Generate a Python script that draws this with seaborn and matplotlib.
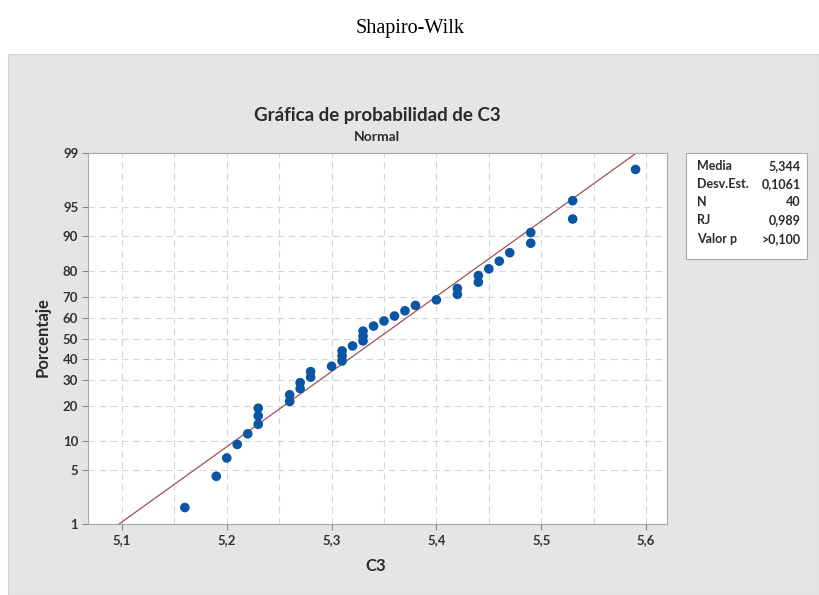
import matplotlib
matplotlib.use("Agg")
import matplotlib.pyplot as plt
from matplotlib.patches import Rectangle
from matplotlib.ticker import MultipleLocator
import pandas as pd
import seaborn as sns
from statistics import NormalDist

# C3 values (sorted) and their plotted percentages
c3 = [5.16, 5.19, 5.20, 5.21, 5.22, 5.23, 5.23, 5.23, 5.26, 5.26,
      5.27, 5.27, 5.28, 5.28, 5.30, 5.31, 5.31, 5.31, 5.32, 5.33,
      5.33, 5.33, 5.34, 5.35, 5.36, 5.37, 5.38, 5.40, 5.42, 5.42,
      5.44, 5.44, 5.45, 5.46, 5.47, 5.49, 5.49, 5.53, 5.53, 5.59]
porcentaje = [1.7, 4.2, 6.7, 9.2, 11.6, 14.1, 16.6, 19.1, 21.5, 24.0,
              26.5, 29.0, 31.4, 33.9, 36.4, 38.9, 41.3, 43.8, 46.3, 48.8,
              51.2, 53.7, 56.2, 58.7, 61.1, 63.6, 66.1, 68.6, 71.0, 73.5,
              76.0, 78.5, 80.9, 83.4, 85.9, 88.4, 90.8, 93.3, 95.8, 98.3]

y_ticks = [1, 5, 10, 20, 30, 40, 50, 60, 70, 80, 90, 95, 99]
x_ticks = [5.1, 5.2, 5.3, 5.4, 5.5, 5.6]

media = 5.344
desv = 0.1061
stats_labels = ["Media", "Desv.Est.", "N", "RJ", "Valor p"]
stats_values = ["5,344", "0,1061", "40", "0,989", ">0,100"]

nd = NormalDist()
df = pd.DataFrame({"C3": c3, "z": [nd.inv_cdf(p / 100) for p in porcentaje]})

# fitted line between 1% and 99%
z_lo, z_hi = nd.inv_cdf(0.01), nd.inv_cdf(0.99)
fit = pd.DataFrame({"C3": [media + z_lo * desv, media + z_hi * desv], "z": [z_lo, z_hi]})

sns.set_style("white")
plt.rcParams["font.family"] = ["Lato", "DejaVu Sans"]

W, H = 819, 595
fig = plt.figure(figsize=(W / 100, H / 100), dpi=100)
fig.patch.set_facecolor("white")
# grey Minitab panel behind everything
fig.patches.append(Rectangle((8 / W, 0), (W - 8) / W, (H - 54) / H,
                             transform=fig.transFigure, facecolor="#e5e5e5",
                             edgecolor="#d4d4d4", lw=0.8, zorder=-5))

ax = fig.add_axes([88 / W, (H - 524) / H, (667 - 88) / W, (524 - 153) / H])
ax.set_facecolor("white")

sns.lineplot(data=fit, x="C3", y="z", color="#a0524f", lw=0.9, ax=ax, zorder=2)
sns.scatterplot(data=df, x="C3", y="z", color="#0b56a4", s=48, edgecolor="none", ax=ax, zorder=3)

ax.set_xlim(5.0676, 5.62)
ax.set_ylim(z_lo, z_hi)
ax.xaxis.set_minor_locator(MultipleLocator(0.05))
ax.set_xticks(x_ticks)
ax.set_xticklabels([f"{v:.1f}".replace(".", ",") for v in x_ticks])
ax.set_yticks([nd.inv_cdf(v / 100) for v in y_ticks])
ax.set_yticklabels([str(v) for v in y_ticks])

ax.grid(True, which="both", axis="x", ls=(0, (6, 4)), color="#d6d6d6", lw=0.8)
ax.grid(True, which="major", axis="y", ls=(0, (6, 4)), color="#d6d6d6", lw=0.8)
ax.tick_params(axis="both", which="major", length=4, width=0.8, color="#888888",
               labelsize=9.5, labelcolor="#333333", pad=3, direction="out",
               left=True, bottom=True)
ax.tick_params(axis="x", which="minor", length=0)
for lbl in ax.get_xticklabels() + ax.get_yticklabels():
    lbl.set_fontweight("bold")
for sp in ax.spines.values():
    sp.set_color("#a8a8a8")
    sp.set_linewidth(0.8)

ax.set_xlabel("")
ax.set_ylabel("")
fig.text(376 / W, 1 - 566 / H, "C3", ha="center", va="center", fontsize=12,
         fontweight="bold", color="#2a2a2a")
fig.text(43 / W, 1 - 337 / H, "Porcentaje", ha="center", va="center", rotation=90,
         fontsize=12, fontweight="bold", color="#2a2a2a")

fig.text(410 / W, 1 - 28 / H, "Shapiro-Wilk", ha="center", va="center",
         fontsize=14.5, family="Liberation Serif", color="black")
fig.text(377 / W, 1 - 116 / H, "Gráfica de probabilidad de C3", ha="center", va="center",
         fontsize=13.5, fontweight="bold", color="#2a2a2a")
fig.text(377 / W, 1 - 137 / H, "Normal", ha="center", va="center",
         fontsize=10, fontweight="bold", color="#2a2a2a")

# statistics box
fig.patches.append(Rectangle((686 / W, 1 - 259 / H), (807 - 686) / W, (259 - 153) / H,
                             transform=fig.transFigure, facecolor="white",
                             edgecolor="#a8a8a8", lw=0.8, zorder=1))
rows_y = [166, 184, 202, 220, 239]
for lab, val, yy in zip(stats_labels, stats_values, rows_y):
    fig.text(697 / W, 1 - yy / H, lab, ha="left", va="center", fontsize=9,
             fontweight="bold", color="#2a2a2a")
    fig.text(801 / W, 1 - yy / H, val, ha="right", va="center", fontsize=9,
             fontweight="bold", color="#2a2a2a")

fig.savefig("out.png", dpi=100)
